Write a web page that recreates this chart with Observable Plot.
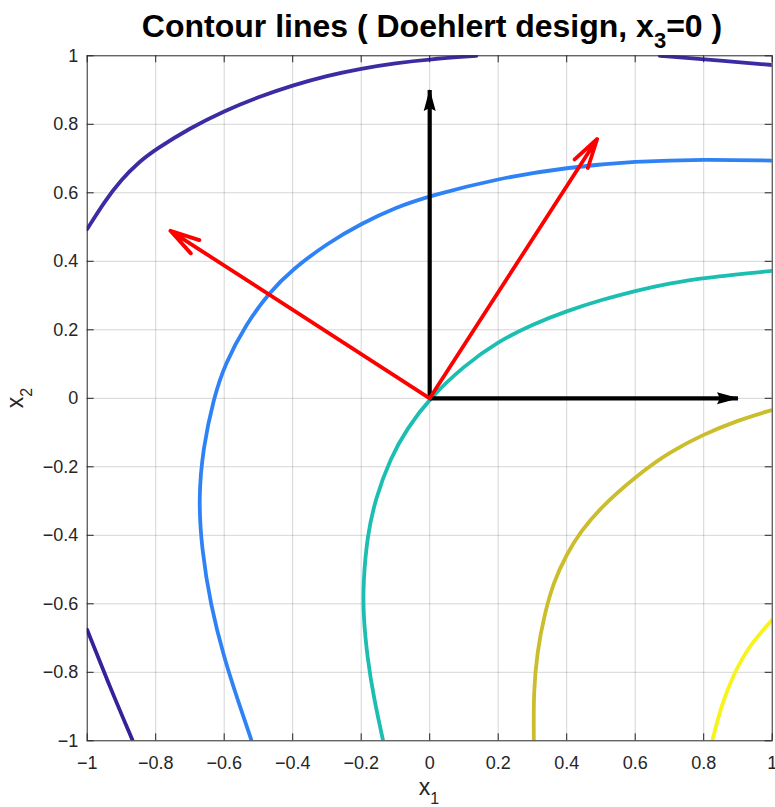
<!DOCTYPE html>
<html>
<head>
<meta charset="utf-8">
<script src="https://cdn.jsdelivr.net/npm/d3@7"></script>
<script src="https://cdn.jsdelivr.net/npm/@observablehq/plot@0.6"></script>
<style>
  body { margin: 0; background: #fff; }
  #chart svg { display: block; overflow: visible; }
</style>
</head>
<body>
<div id="chart"></div>
<script>
// Tick values on both axes
const xTicks = [-1, -0.8, -0.6, -0.4, -0.2, 0, 0.2, 0.4, 0.6, 0.8, 1];
const yTicks = [-1, -0.8, -0.6, -0.4, -0.2, 0, 0.2, 0.4, 0.6, 0.8, 1];

// Contour lines of the response surface at x3 = 0, as [x1, x2] points
const contourLowTop = [[-1, 0.494], [-0.95, 0.574], [-0.9, 0.639], [-0.85, 0.689], [-0.8, 0.727],
  [-0.7, 0.789], [-0.6, 0.839], [-0.5, 0.880], [-0.4, 0.914], [-0.3, 0.942], [-0.2, 0.963],
  [-0.1, 0.979], [0, 0.990], [0.136, 1.0]];
const contourLowTopRight = [[0.672, 1.0], [0.8, 0.990], [1.0, 0.973]];
const contourLowBottom = [[-1, -0.676], [-0.932, -0.847], [-0.867, -1.0]];
const contourBlue = [[1.0, 0.694], [0.8, 0.698], [0.6, 0.692], [0.4, 0.674], [0.2, 0.642], [0, 0.591],
  [-0.1, 0.557], [-0.2, 0.510], [-0.3, 0.452], [-0.4, 0.377], [-0.468, 0.31], [-0.537, 0.215],
  [-0.598, 0.10], [-0.631, 0.0], [-0.662, -0.146], [-0.675, -0.292], [-0.666, -0.438], [-0.640, -0.603],
  [-0.60, -0.759], [-0.562, -0.876], [-0.52, -1.0]];
const contourTeal = [[1.0, 0.372], [0.8, 0.352], [0.7, 0.336], [0.6, 0.314], [0.5, 0.287], [0.4, 0.255],
  [0.3, 0.216], [0.2, 0.166], [0.1, 0.095], [0, 0], [-0.066, -0.088], [-0.115, -0.175],
  [-0.158, -0.292], [-0.182, -0.399], [-0.194, -0.535], [-0.194, -0.633], [-0.182, -0.759],
  [-0.163, -0.876], [-0.136, -1.0]];
const contourOlive = [[1.0, -0.034], [0.9, -0.064], [0.8, -0.105], [0.7, -0.157], [0.6, -0.229],
  [0.5, -0.318], [0.44, -0.39], [0.4, -0.455], [0.362, -0.535], [0.334, -0.635], [0.314, -0.74],
  [0.303, -0.856], [0.304, -1.0]];
const contourYellow = [[1.0, -0.647], [0.934, -0.720], [0.886, -0.808], [0.852, -0.895], [0.825, -1.0]];

// Coordinate axes and the principal axes of the quadratic form
const coordAxes = [{x1: 0, y1: 0, x2: 0.9, y2: 0}, {x1: 0, y1: 0, x2: 0, y2: 0.9}];
const principalAxes = [{x1: 0, y1: 0, x2: 0.489, y2: 0.757}, {x1: 0, y1: 0, x2: -0.757, y2: 0.489}];

// Line colours (parula colormap levels)
const colLow = "#3c2ca3";
const colLowBottom = "#35219a";
const colBlue = "#2f82f6";
const colTeal = "#1cbeb1";
const colOlive = "#cbbd2b";
const colYellow = "#f6f41a";

const W = 775, H = 807;
const mTop = 55.3, mBottom = 66.7, mLeft = 86.7, mRight = 3.3;
const innerH = H - mTop - mBottom, innerW = W - mLeft - mRight;
const ink = "#262626";
const fmt = d => String(d).replace("-", "\u2212");

// Filled arrow head with its tip at the origin, pointing up
const headSymbol = {
  draw(ctx) {
    ctx.moveTo(0, -1);
    ctx.lineTo(6, 21);
    ctx.lineTo(0, 18);
    ctx.lineTo(-6, 21);
    ctx.closePath();
  }
};

const line = (pts, color) => Plot.line(pts, {x: d => d[0], y: d => d[1], stroke: color, strokeWidth: 3.8,
  curve: "basis", clip: true});

const svg = Plot.plot({
  width: W, height: H,
  marginTop: mTop, marginBottom: mBottom, marginLeft: mLeft, marginRight: mRight,
  style: {fontFamily: "'Liberation Sans', Arial, Helvetica, sans-serif", fontSize: "18px", color: ink, background: "#fff"},
  x: {domain: [-1, 1]},
  y: {domain: [-1, 1]},
  marks: [
    Plot.gridX({ticks: xTicks.slice(1, -1), stroke: "#000", strokeOpacity: 0.17}),
    Plot.gridY({ticks: yTicks.slice(1, -1), stroke: "#000", strokeOpacity: 0.17}),
    line(contourLowTop, colLow),
    line(contourLowTopRight, colLow),
    line(contourLowBottom, colLowBottom),
    line(contourBlue, colBlue),
    line(contourTeal, colTeal),
    line(contourOlive, colOlive),
    line(contourYellow, colYellow),
    // black coordinate axes
    Plot.link(coordAxes, {x1: "x1", y1: "y1", x2: "x2", y2: "y2", stroke: "#000", strokeWidth: 4.2}),
    Plot.dot(coordAxes, {x: "x2", y: "y2", symbol: headSymbol, fill: "#000", stroke: "none",
      rotate: d => 90 - Math.atan2(d.y2 - d.y1, d.x2 - d.x1) * 180 / Math.PI}),
    // red principal axes
    Plot.arrow(principalAxes, {x1: "x1", y1: "y1", x2: "x2", y2: "y2", stroke: "#ff0000", strokeWidth: 3.8,
      headLength: 12, headAngle: 30}),
    // box ticks pointing inward
    Plot.tickX(xTicks, {x: d => d, insetTop: innerH - 7, stroke: ink}),
    Plot.tickX(xTicks, {x: d => d, insetBottom: innerH - 7, stroke: ink}),
    Plot.tickY(yTicks, {y: d => d, insetRight: innerW - 7, stroke: ink}),
    Plot.tickY(yTicks, {y: d => d, insetLeft: innerW - 7, stroke: ink}),
    Plot.axisX({ticks: xTicks, tickSize: 0, tickPadding: 15, tickFormat: fmt, label: null, fill: ink}),
    Plot.axisY({ticks: yTicks, tickSize: 0, tickPadding: 9, tickFormat: fmt, label: null, fill: ink}),
    Plot.frame({stroke: ink, strokeWidth: 1})
  ]
});

document.getElementById("chart").appendChild(svg);

const s = d3.select(svg);
const font = "'Liberation Sans', Arial, Helvetica, sans-serif";

// Title with subscript
const title = s.append("text")
  .attr("x", 432).attr("y", 37)
  .attr("text-anchor", "middle")
  .attr("font-family", font).attr("font-weight", "bold").attr("font-size", 32).attr("fill", "#000");
title.append("tspan").text("Contour lines ( Doehlert design, x");
title.append("tspan").attr("font-size", 22).attr("dy", 11).text("3");
title.append("tspan").attr("dy", -11).text("=0 )");

// x-axis label
const xl = s.append("text")
  .attr("x", 429).attr("y", 795)
  .attr("text-anchor", "middle")
  .attr("font-family", font).attr("font-size", 23).attr("fill", ink);
xl.append("tspan").text("x");
xl.append("tspan").attr("font-size", 16).attr("dy", 9).text("1");

// y-axis label
const yl = s.append("text")
  .attr("transform", "translate(23,398) rotate(-90)")
  .attr("text-anchor", "middle")
  .attr("font-family", font).attr("font-size", 23).attr("fill", ink);
yl.append("tspan").text("x");
yl.append("tspan").attr("font-size", 16).attr("dy", 9).text("2");
</script>
</body>
</html>
